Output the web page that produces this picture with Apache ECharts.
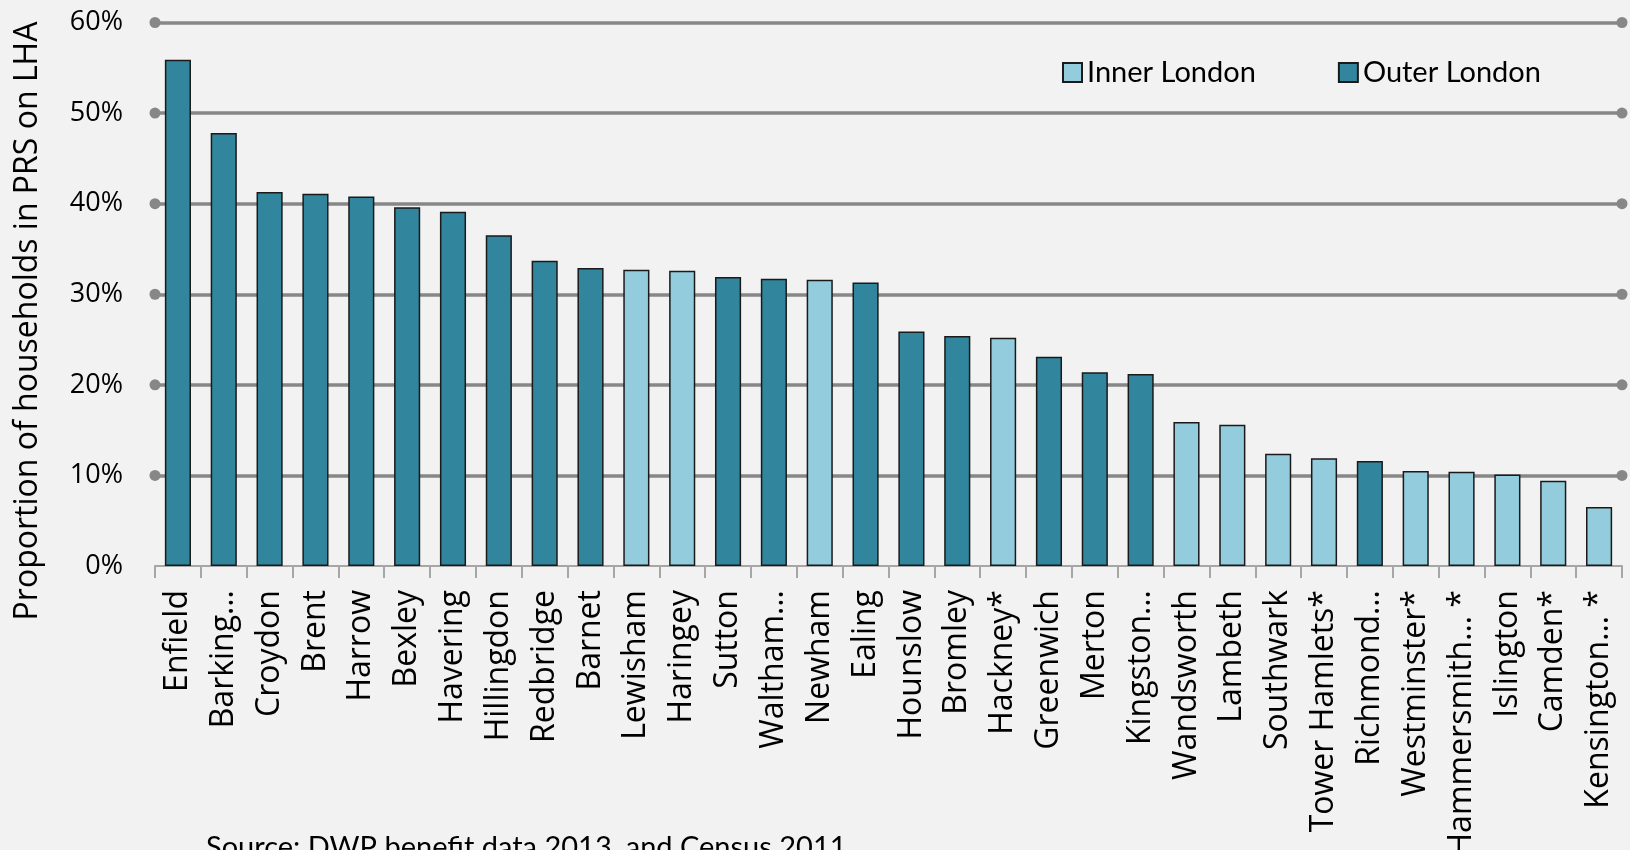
<!DOCTYPE html>
<html>
<head>
<meta charset="utf-8">
<script src="https://cdn.jsdelivr.net/npm/echarts@6/dist/echarts.min.js"></script>
<style>
html,body{margin:0;padding:0;background:#f2f2f2;}
#c{width:1630px;height:850px;}
</style>
</head>
<body>
<div id="c"></div>
<script>
const categories = ['Enfield','Barking\u2026','Croydon','Brent','Harrow','Bexley','Havering','Hillingdon','Redbridge','Barnet','Lewisham','Haringey','Sutton','Waltham\u2026','Newham','Ealing','Hounslow','Bromley','Hackney*','Greenwich','Merton','Kingston\u2026','Wandsworth','Lambeth','Southwark','Tower Hamlets*','Richmond\u2026','Westminster*','Hammersmith\u2026 *','Islington','Camden*','Kensington\u2026 *'];
const values = [55.9,47.8,41.3,41.1,40.8,39.6,39.1,36.5,33.7,32.9,32.7,32.6,31.9,31.7,31.6,31.3,25.9,25.4,25.2,23.1,21.4,21.2,15.9,15.6,12.4,11.9,11.6,10.5,10.4,10.1,9.4,6.5];
const region = ['O','O','O','O','O','O','O','O','O','O','I','I','O','O','I','O','O','O','I','O','O','O','I','I','I','I','O','I','I','I','I','I'];
const seriesNames = ['Inner London','Outer London'];
const yTicks = [0,10,20,30,40,50,60];
const gridValues = [10,20,30,40,50,60];

const innerData = values.map((v,i)=> region[i]==='I' ? v : '-');
const outerData = values.map((v,i)=> region[i]==='O' ? v : '-');

const chart = echarts.init(document.getElementById('c'), null, {renderer:'canvas'});
const barBase = {
  type:'bar', stack:'all', barCategoryGap:'43%',
  animation:false,
  emphasis:{disabled:true}
};
chart.setOption({
  backgroundColor:'#f2f2f2',
  animation:false,
  grid:{left:155, right:8, top:22.5, bottom:284, containLabel:false, outerBoundsMode:'none'},
  legend:{
    data:seriesNames, left:1057, top:53, icon:'rect',
    itemWidth:19, itemHeight:19, itemGap:82,
    textStyle:{fontFamily:'Lato', fontSize:29, color:'#000'}
  },
  xAxis:{
    type:'category', data:categories,
    axisLine:{lineStyle:{color:'#a6a6a6', width:2}},
    axisTick:{show:true, length:12, lineStyle:{color:'#a6a6a6', width:2}},
    axisLabel:{interval:0, rotate:90, margin:24, fontFamily:'Open Sans', fontSize:32, color:'#000'}
  },
  yAxis:{
    type:'value', min:yTicks[0], max:yTicks[yTicks.length-1], interval:10,
    axisLine:{show:false}, axisTick:{show:false}, splitLine:{show:false},
    axisLabel:{formatter:'{value}%', margin:32, fontFamily:'Open Sans', fontSize:27, color:'#000'}
  },
  graphic:[
    {type:'text', x:28, y:321, rotation:Math.PI/2,
     style:{text:'Proportion of households in PRS on LHA', fontFamily:'Open Sans', fontSize:32, fill:'#000', textAlign:'center', textVerticalAlign:'middle'}},
    {type:'text', x:206, y:833,
     style:{text:'Source: DWP benefit data 2013, and Census 2011', fontFamily:'Lato', fontSize:29, fill:'#000', textAlign:'left', textVerticalAlign:'top'}}
  ],
  series:[
    Object.assign({}, barBase, {
      name:seriesNames[0], data:innerData, z:3,
      itemStyle:{color:'#93cddd', borderColor:'#1a1a1a', borderWidth:1.5}
    }),
    Object.assign({}, barBase, {
      name:seriesNames[1], data:outerData, z:3,
      itemStyle:{color:'#31859c', borderColor:'#1a1a1a', borderWidth:1.5},
      markLine:{
        z:1, silent:true, animation:false,
        symbol:['circle','circle'], symbolSize:11,
        label:{show:false},
        emphasis:{disabled:true},
        lineStyle:{color:'#878787', width:3.5, type:'solid'},
        itemStyle:{color:'#878787'},
        data:gridValues.map(v=>({yAxis:v}))
      }
    })
  ]
});
</script>
</body>
</html>
